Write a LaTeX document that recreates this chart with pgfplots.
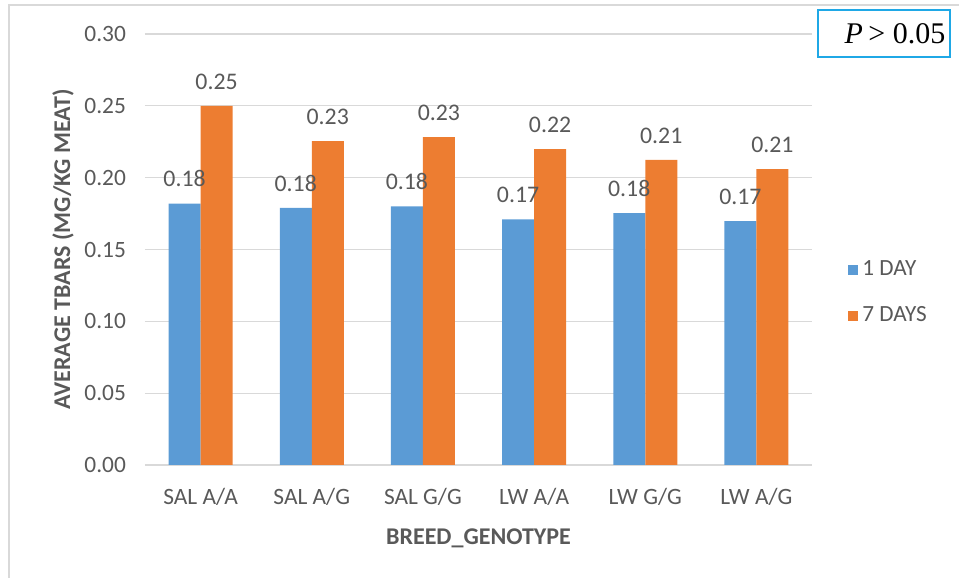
\documentclass[border=0pt]{standalone}
\usepackage{pgfplots}
\pgfplotsset{compat=1.18}
\usepackage{fontspec}
\setmainfont{Carlito}
\newfontfamily\timesf{Liberation Serif}
\definecolor{cblue}{HTML}{5B9BD5}
\definecolor{corange}{HTML}{ED7D31}
\definecolor{txt}{HTML}{595959}
\definecolor{gridc}{HTML}{D9D9D9}
\definecolor{boxc}{HTML}{1FA8E6}
\begin{document}
\begin{tikzpicture}[x=0.5pt,y=0.5pt]
\path[use as bounding box] (0,0) rectangle (959,578);
\draw[gridc,line width=0.6pt] (9,0) -- (9,573) -- (959,573);
\begin{axis}[
  at={(72.5pt,56.5pt)}, anchor=south west,
  scale only axis, width=333.5pt, height=215.5pt,
  ybar=0pt, bar width=16pt,
  xmin=-0.5, xmax=5.5, ymin=0, ymax=0.30,
  xtick={0,1,2,3,4,5},
  xticklabels={SAL A/A, SAL A/G, SAL G/G, LW A/A, LW G/G, LW A/G},
  ytick={0,0.05,0.10,0.15,0.20,0.25,0.30},
  yticklabel style={xshift=-6pt, /pgf/number format/fixed, /pgf/number format/fixed zerofill, /pgf/number format/precision=2},
  /pgf/number format/assume math mode=true,
  ymajorgrids, grid style={gridc, line width=0.6pt},
  axis x line*=bottom, axis y line*=left,
  x axis line style={gridc, line width=0.8pt},
  y axis line style={draw=none},
  major tick length=0pt,
  tick label style={font=\fontsize{11.7}{13}\selectfont, text=txt},
  xticklabel style={yshift=-8pt},
  xlabel={\textbf{BREED\_GENOTYPE}},
  ylabel={\textbf{AVERAGE TBARS (MG/KG MEAT)}},
  label style={font=\fontsize{12}{14}\selectfont, text=txt},
  xlabel style={yshift=-5pt},
  ylabel style={yshift=-1.5pt},
  nodes near coords,
  nodes near coords style={font=\fontsize{11.9}{13}\selectfont, text=txt, anchor=south, inner sep=0pt, yshift=8pt,
    /pgf/number format/fixed, /pgf/number format/fixed zerofill, /pgf/number format/precision=2},
  legend style={at={(1.045,0.40)}, anchor=west, draw=none, fill=none,
    font=\fontsize{11.6}{13}\selectfont, text=txt, row sep=10pt},
  legend cell align=left,
  legend image code/.code={\fill[#1] (0pt,-2.5pt) rectangle (5pt,2.5pt);},
]
\addplot[draw=none, fill=cblue] coordinates {(0,0.182) (1,0.179) (2,0.180) (3,0.171) (4,0.1754) (5,0.1698)};
\addplot[draw=none, fill=corange] coordinates {(0,0.250) (1,0.2255) (2,0.2283) (3,0.2199) (4,0.2123) (5,0.2060)};
\legend{1 DAY, 7 DAYS}
\end{axis}
\draw[boxc, line width=1pt, fill=white] (818,521) rectangle (950,568);
\node[font=\timesf\fontsize{15}{17}\selectfont] at (895,544) {\textit{P} \hspace{-1pt}> 0.05};
\end{tikzpicture}
\end{document}
